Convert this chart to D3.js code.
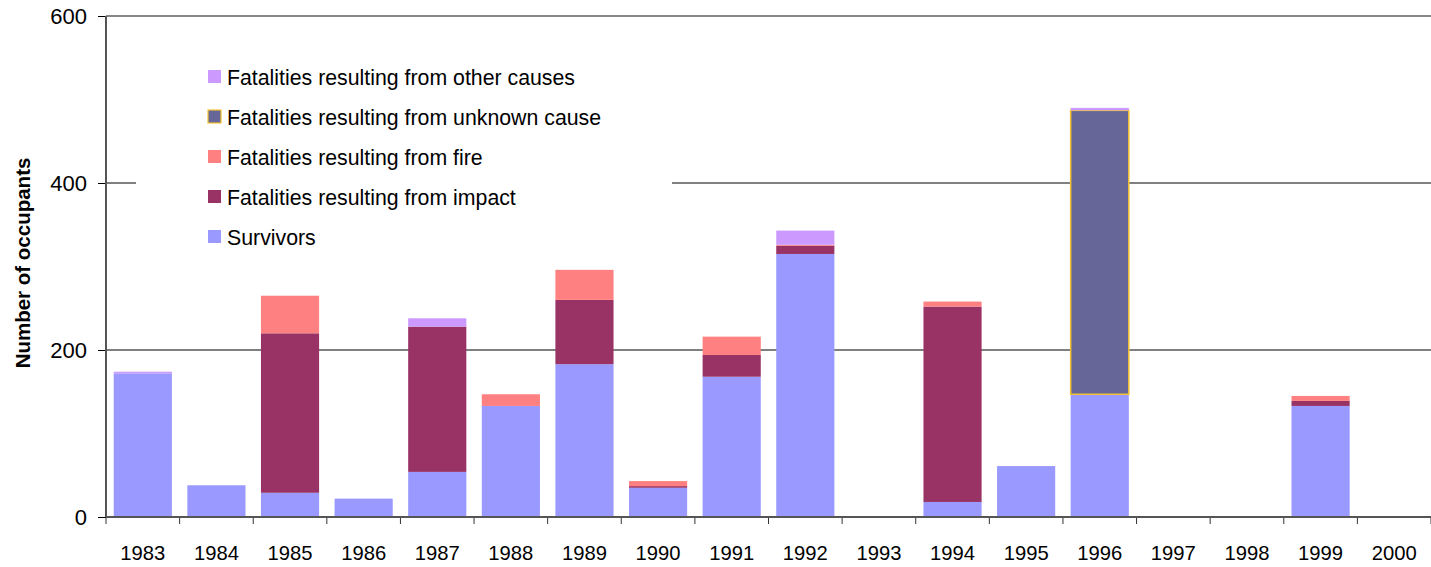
<!DOCTYPE html>
<html>
<head>
<meta charset="utf-8">
<script src="https://cdn.jsdelivr.net/npm/d3@7"></script>
<style>
  body { margin: 0; background: #fff; }
  svg { display: block; font-family: "Liberation Sans", Arial, sans-serif; }
</style>
</head>
<body>
<div id="chart"></div>
<script>
var years = ["1983","1984","1985","1986","1987","1988","1989","1990","1991","1992","1993","1994","1995","1996","1997","1998","1999","2000"];
var survivors = [172, 38, 29, 22, 54, 133, 183, 35, 168, 315, 0, 18, 61, 147, 0, 0, 133, 0];
var impact    = [0, 0, 191, 0, 174, 0, 77, 2, 26, 10, 0, 234, 0, 0, 0, 0, 6, 0];
var fire      = [0, 0, 45, 0, 0, 14, 36, 6, 22, 1, 0, 6, 0, 0, 0, 0, 6, 0];
var unknown   = [0, 0, 0, 0, 0, 0, 0, 0, 0, 0, 0, 0, 0, 340, 0, 0, 0, 0];
var other     = [2, 0, 0, 0, 10, 0, 0, 0, 0, 17, 0, 0, 0, 3, 0, 0, 0, 0];
var yTicks = [0, 200, 400, 600];

var keys = ["survivors", "impact", "fire", "unknown", "other"];
var labels = {
    other: "Fatalities resulting from other causes",
    unknown: "Fatalities resulting from unknown cause",
    fire: "Fatalities resulting from fire",
    impact: "Fatalities resulting from impact",
    survivors: "Survivors"
};
var colors = { survivors: "#9999FF", impact: "#993366", fire: "#FF8080", unknown: "#666699", other: "#CC99FF" };

var width = 1431, height = 567;
var margin = {top: 16, right: 0, bottom: 50, left: 106};
var w = width - margin.left - margin.right;
var h = height - margin.top - margin.bottom;

var rows = years.map((y, i) => ({
    year: y, survivors: survivors[i], impact: impact[i], fire: fire[i], unknown: unknown[i], other: other[i]
}));
var series = d3.stack().keys(keys)(rows);

var x = d3.scaleBand().domain(years).range([0, w]).paddingInner(0.21).paddingOuter(0.105);
var y = d3.scaleLinear().domain([0, 600]).range([h, 0]);

var svg = d3.select("#chart").append("svg")
    .attr("width", width).attr("height", height)
    .append("g")
    .attr("transform", "translate(" + margin.left + "," + margin.top + ")");

// gridlines
svg.append("g").selectAll("line")
    .data(yTicks.filter(d => d > 0 && d < 600))
    .enter().append("line")
    .attr("x1", 0).attr("x2", w)
    .attr("y1", d => y(d)).attr("y2", d => y(d))
    .attr("stroke", "#000").attr("stroke-width", 1);

// top border
svg.append("line").attr("x1", 0).attr("x2", w).attr("y1", 0).attr("y2", 0)
    .attr("stroke", "#888").attr("stroke-width", 2);

// legend background hides the gridline behind it
var legend = svg.append("g").attr("transform", "translate(" + (136 - margin.left) + "," + (48 - margin.top) + ")");
legend.append("rect").attr("width", 536).attr("height", 214).attr("fill", "#fff");

// bars
svg.append("g").selectAll("g")
    .data(series)
    .enter().append("g")
    .attr("fill", d => colors[d.key])
    .attr("stroke", d => d.key == "unknown" ? "#F2C230" : "none")
    .attr("stroke-width", 1.5)
    .selectAll("rect")
    .data(d => d.filter(p => p[1] - p[0] > 0))
    .enter().append("rect")
    .attr("x", d => x(d.data.year))
    .attr("width", x.bandwidth())
    .attr("y", d => y(d[1]))
    .attr("height", d => y(d[0]) - y(d[1]));

// y axis
var yAxis = svg.append("g")
    .call(d3.axisLeft(y).tickValues(yTicks).tickSize(8).tickPadding(11));
yAxis.select(".domain").remove();
yAxis.selectAll(".tick line").attr("stroke", "#000");
yAxis.selectAll("text").attr("font-size", 22).attr("fill", "#000")
    .attr("font-family", "Liberation Sans, Arial, sans-serif");
svg.append("line").attr("x1", 0).attr("x2", 0).attr("y1", 0).attr("y2", h)
    .attr("stroke", "#555").attr("stroke-width", 2);

// x axis
var xAxis = svg.append("g").attr("transform", "translate(0," + h + ")")
    .call(d3.axisBottom(x).tickSize(0).tickPadding(28));
xAxis.select(".domain").remove();
xAxis.selectAll("text").attr("font-size", 21).attr("fill", "#000")
    .attr("font-family", "Liberation Sans, Arial, sans-serif")
    .attr("textLength", 45).attr("lengthAdjust", "spacingAndGlyphs");
xAxis.selectAll(".edge").data(d3.range(years.length + 1))
    .enter().append("line")
    .attr("x1", i => i * x.step()).attr("x2", i => i * x.step())
    .attr("y1", 0).attr("y2", 7)
    .attr("stroke", "#333");
svg.append("line").attr("x1", 0).attr("x2", w).attr("y1", h).attr("y2", h)
    .attr("stroke", "#555").attr("stroke-width", 2);

// y title
svg.append("text")
    .attr("transform", "translate(" + (30 - margin.left) + "," + (263 - margin.top) + ") rotate(-90)")
    .attr("text-anchor", "middle")
    .attr("font-size", 20.5).attr("font-weight", "bold")
    .text("Number of occupants");

// legend items
var legendKeys = ["other", "unknown", "fire", "impact", "survivors"];
var item = legend.selectAll(".item").data(legendKeys).enter().append("g")
    .attr("transform", (d, i) => "translate(0," + (30 + i * 40) + ")");
item.append("rect")
    .attr("x", 72).attr("y", -8).attr("width", 13).attr("height", 13)
    .attr("fill", d => colors[d])
    .attr("stroke", d => d == "unknown" ? "#F2C230" : "none")
    .attr("stroke-width", 1.2);
item.append("text")
    .attr("x", 91).attr("y", 0).attr("dy", "0.35em")
    .attr("font-size", 21.3).attr("fill", "#000")
    .text(d => labels[d]);
</script>
</body>
</html>
